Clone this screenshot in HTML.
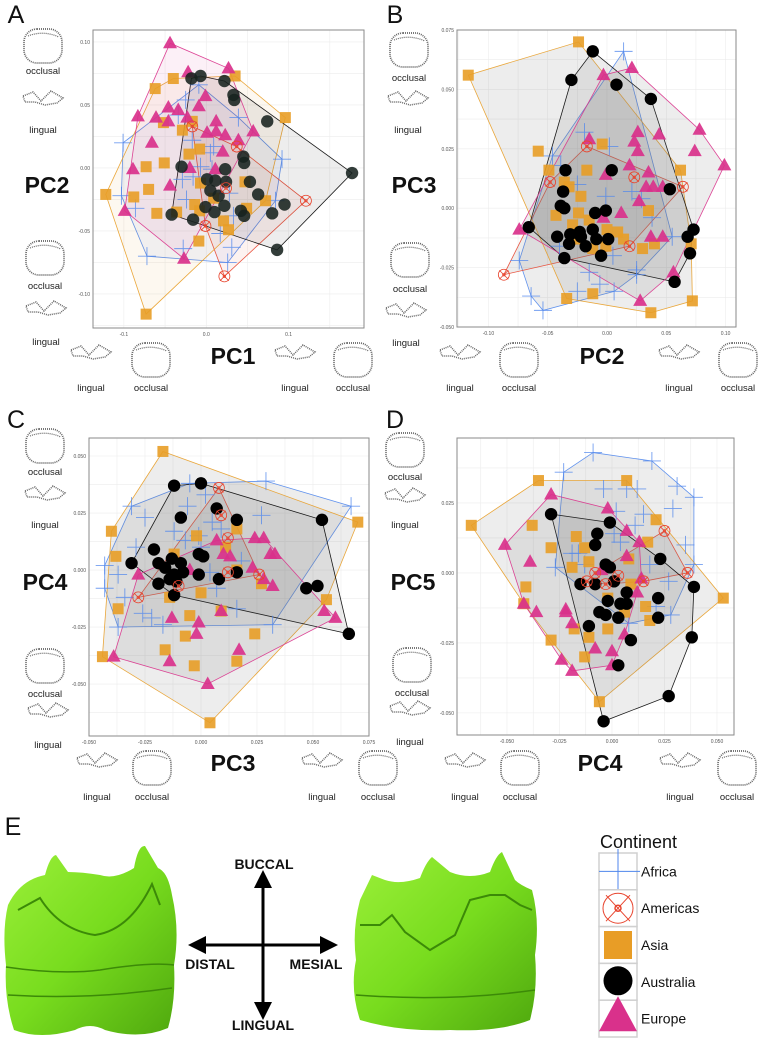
<!DOCTYPE html>
<html><head><meta charset="utf-8">
<style>
html,body{margin:0;padding:0;background:#fff;}
body{width:763px;height:1041px;overflow:hidden;position:relative;font-family:"Liberation Sans",Arial,sans-serif;}
svg{position:absolute;left:0;top:0;}
</style></head>
<body>
<svg id="fig" width="763" height="1041" viewBox="0 0 763 1041" xmlns="http://www.w3.org/2000/svg">
<defs>
<linearGradient id="toothG" x1="0" y1="0" x2="1" y2="1">
<stop offset="0" stop-color="#9cf03a"/><stop offset="0.5" stop-color="#78dc1e"/><stop offset="1" stop-color="#4fa80e"/>
</linearGradient>
<marker id="ah" markerWidth="6" markerHeight="6" refX="3" refY="3" orient="auto"><path d="M0,0 L6,3 L0,6 z" fill="#000"/></marker>
</defs>
</svg>
<script>
// ===== Panel A data (PC1 vs PC2) =====
const aAfricaX=[-0.009,-0.025,-0.034,0.039,-0.101,-0.017,0.005,-0.007,-0.016,-0.029,0.007,0.092,0.084,-0.024,0.028,0.033,-0.086,-0.103,-0.072,-0.028,0.031,0.026,0.017,0.009];
const aAfricaY=[0.066,0.054,0.042,0.040,0.020,0.022,0.012,0.001,-0.007,-0.009,-0.001,0.007,-0.026,-0.025,-0.020,-0.038,-0.032,-0.022,-0.070,-0.064,-0.063,-0.075,-0.052,0.017];
const aAmericasX=[-0.017,0.024,-0.001,0.121,0.022,0.037];
const aAmericasY=[0.033,-0.016,-0.046,-0.026,-0.086,0.017];
const aAsiaX=[-0.040,-0.062,0.035,0.096,-0.052,-0.017,-0.029,-0.008,-0.021,-0.073,-0.051,-0.122,-0.088,-0.070,-0.060,-0.036,-0.014,-0.007,0.009,-0.008,0.047,0.049,0.072,0.021,0.027,-0.009,-0.073];
const aAsiaY=[0.071,0.063,0.073,0.040,0.036,0.037,0.030,0.015,0.011,0.001,0.004,-0.021,-0.023,-0.017,-0.036,-0.035,-0.029,-0.012,-0.024,-0.034,-0.011,-0.032,-0.026,-0.042,-0.049,-0.058,-0.116];
const aAustraliaX=[-0.018,-0.007,0.022,0.033,0.034,0.074,0.177,0.045,0.046,-0.030,0.023,0.001,0.011,0.024,0.005,0.015,0.053,0.063,0.095,0.080,0.086,-0.001,0.010,0.022,0.042,0.046,-0.016,-0.042];
const aAustraliaY=[0.071,0.073,0.069,0.058,0.054,0.037,-0.004,0.009,0.004,0.001,-0.001,-0.009,-0.010,-0.011,-0.018,-0.022,-0.011,-0.021,-0.029,-0.036,-0.065,-0.031,-0.035,-0.030,-0.034,-0.038,-0.041,-0.037];
const aEuropeX=[-0.044,0.027,-0.022,-0.001,-0.009,-0.083,-0.061,-0.046,-0.034,-0.046,-0.023,0.012,0.001,0.012,0.023,0.039,0.057,-0.066,0.020,-0.089,-0.020,0.011,-0.044,-0.099,-0.027];
const aEuropeY=[0.099,0.079,0.076,0.057,0.049,0.041,0.040,0.048,0.046,0.037,0.040,0.037,0.028,0.029,0.026,0.022,0.029,0.020,0.013,-0.001,0.000,-0.001,-0.014,-0.034,-0.072];
const aXTicks=[-0.1,0.0,0.1], aXTickLabels=["-0.1","0.0","0.1"];
const aYTicks=[-0.10,-0.05,0.00,0.05,0.10], aYTickLabels=["-0.10","-0.05","0.00","0.05","0.10"];

// ===== Panel B data (PC2 vs PC3) =====
const bAfricaX=[0.014,-0.019,-0.046,-0.064,-0.054,-0.074,-0.025,-0.001,0.021,0.029,0.038,0.005,0.025,0.025,-0.015,-0.006,0.006,-0.025,0.055,-0.039,0.002,-0.040];
const bAfricaY=[0.066,0.032,0.022,-0.037,-0.043,-0.022,0.010,0.005,0.007,0.004,-0.004,-0.020,-0.026,-0.028,-0.027,-0.032,-0.035,-0.035,-0.012,0.018,0.026,-0.016];
const bAmericasX=[-0.017,0.023,0.064,-0.048,0.019,-0.087];
const bAmericasY=[0.026,0.013,0.009,0.011,-0.016,-0.028];
const bAsiaX=[-0.117,-0.024,-0.058,-0.049,-0.017,-0.004,0.062,-0.036,-0.032,-0.022,-0.024,-0.043,-0.029,-0.015,0.000,0.009,0.014,0.035,0.030,0.040,0.071,0.072,0.037,-0.034,-0.012,-0.012,-0.001,-0.027];
const bAsiaY=[0.056,0.070,0.024,0.016,0.016,0.027,0.016,0.011,0.009,0.005,-0.002,-0.003,-0.007,-0.005,-0.009,-0.010,-0.013,-0.001,-0.017,-0.015,-0.015,-0.039,-0.044,-0.038,-0.036,-0.017,-0.016,-0.013];
const bAustraliaX=[-0.012,-0.030,0.008,0.037,-0.035,0.004,0.053,-0.037,-0.039,-0.036,-0.010,-0.001,-0.066,-0.042,-0.031,-0.023,-0.022,-0.032,-0.018,-0.012,-0.009,0.001,-0.005,-0.036,0.073,0.068,0.070,0.057];
const bAustraliaY=[0.066,0.054,0.052,0.046,0.016,0.016,0.008,0.007,0.001,0.000,-0.002,-0.001,-0.008,-0.012,-0.011,-0.010,-0.012,-0.015,-0.016,-0.009,-0.013,-0.013,-0.020,-0.021,-0.009,-0.012,-0.019,-0.031];
const bEuropeX=[-0.003,0.021,0.078,0.026,0.044,0.023,0.026,0.074,0.099,-0.015,0.019,-0.001,0.035,0.039,0.033,0.047,0.027,0.012,-0.003,0.037,0.047,-0.074,0.056,0.028];
const bEuropeY=[0.056,0.059,0.033,0.032,0.031,0.028,0.024,0.024,0.018,0.029,0.018,0.014,0.015,0.009,0.009,0.009,0.003,-0.002,-0.004,-0.012,-0.012,-0.009,-0.027,-0.039];
const bXTicks=[-0.10,-0.05,0.00,0.05,0.10], bXTickLabels=["-0.10","-0.05","0.00","0.05","0.10"];
const bYTicks=[-0.050,-0.025,0.000,0.025,0.050,0.075], bYTickLabels=["-0.050","-0.025","0.000","0.025","0.050","0.075"];

// ===== Panel C data (PC3 vs PC4) =====
const cAfricaX=[-0.005,0.002,0.029,0.067,-0.031,-0.025,-0.006,-0.012,0.005,0.009,0.027,-0.007,-0.001,-0.043,-0.037,-0.034,-0.043,-0.026,-0.022,-0.017,0.007,0.004,0.018,0.016,0.032,-0.037,-0.029,0.000];
const cAfricaY=[0.038,0.033,0.039,0.028,0.028,0.023,0.028,0.017,0.021,0.018,0.024,0.013,0.015,0.002,-0.002,-0.012,-0.008,-0.019,-0.021,-0.024,-0.008,-0.001,0.004,-0.017,-0.024,-0.025,0.010,0.010];
const cAmericasX=[0.008,0.009,0.012,-0.028,0.026,0.012,-0.010];
const cAmericasY=[0.036,0.024,0.014,-0.012,-0.002,-0.001,-0.007];
const cAsiaX=[-0.017,0.070,-0.040,-0.002,0.016,-0.038,0.011,-0.012,-0.037,-0.014,0.000,0.027,0.016,0.056,-0.005,0.009,-0.007,0.024,-0.016,-0.003,0.016,-0.044,0.004];
const cAsiaY=[0.052,0.021,0.017,0.015,0.018,0.006,0.010,0.007,-0.017,-0.012,-0.010,-0.006,0.000,-0.013,-0.020,-0.018,-0.029,-0.028,-0.035,-0.042,-0.040,-0.038,-0.067];
const cAustraliaX=[-0.012,0.000,0.007,-0.009,0.016,0.054,-0.021,-0.019,-0.031,-0.016,-0.013,-0.009,-0.001,0.001,-0.012,-0.008,-0.001,0.008,0.016,-0.019,-0.014,-0.011,-0.012,0.047,0.052,0.066];
const cAustraliaY=[0.037,0.038,0.027,0.023,0.022,0.022,0.009,0.003,0.003,0.001,0.005,0.003,0.007,0.006,-0.002,-0.001,-0.002,-0.004,-0.001,-0.006,-0.004,-0.005,-0.011,-0.008,-0.007,-0.028];
const cEuropeX=[-0.028,0.007,0.010,0.013,0.024,0.028,0.031,0.033,0.023,0.028,0.032,-0.005,-0.013,-0.001,-0.002,0.009,0.017,-0.014,-0.039,0.003,0.055,0.060];
const cEuropeY=[-0.002,0.013,0.007,0.006,0.014,0.014,0.007,0.007,0.001,-0.004,-0.007,0.000,-0.021,-0.023,-0.028,-0.018,-0.035,-0.040,-0.038,-0.050,-0.018,-0.021];
const cXTicks=[-0.050,-0.025,0.000,0.025,0.050,0.075], cXTickLabels=["-0.050","-0.025","0.000","0.025","0.050","0.075"];
const cYTicks=[-0.050,-0.025,0.000,0.025,0.050], cYTickLabels=["-0.050","-0.025","0.000","0.025","0.050"];

// ===== Panel D data (PC4 vs PC5) =====
const dAfricaX=[-0.009,0.019,-0.023,0.031,0.039,-0.004,0.012,0.007,0.029,0.002,0.015,0.011,0.001,-0.019,-0.013,-0.027,0.018,0.027,0.039,0.035,0.008,0.028,0.021,-0.016,0.004];
const dAfricaY=[0.043,0.040,0.036,0.031,0.027,0.030,0.030,0.030,0.023,0.022,0.021,0.017,0.014,0.007,0.003,0.002,0.003,-0.003,0.003,0.010,-0.018,-0.015,-0.012,0.007,0.011];
const dAmericasX=[0.025,0.036,-0.012,-0.003,0.003,0.015,-0.008];
const dAmericasY=[0.015,0.000,-0.003,-0.004,-0.001,-0.003,0.000];
const dAsiaX=[-0.067,-0.035,0.007,0.021,-0.038,-0.029,-0.017,-0.013,-0.019,-0.011,0.008,0.017,-0.041,-0.042,-0.029,-0.018,-0.011,-0.002,0.006,0.016,0.018,0.053,-0.006,-0.013,0.009,-0.002];
const dAsiaY=[0.017,0.033,0.033,0.019,0.017,0.009,0.013,0.009,0.002,0.004,0.005,0.011,-0.005,-0.011,-0.024,-0.020,-0.023,-0.020,-0.014,-0.012,-0.017,-0.009,-0.046,-0.030,-0.004,-0.009];
const dAustraliaX=[-0.029,-0.001,-0.007,-0.008,0.023,-0.003,-0.001,0.001,-0.008,0.039,0.022,0.007,-0.002,0.004,0.007,-0.006,-0.003,0.003,0.022,-0.011,0.009,0.038,0.003,0.027,-0.004,-0.015];
const dAustraliaY=[0.021,0.018,0.014,0.010,0.005,0.003,0.002,-0.003,-0.004,-0.005,-0.009,-0.007,-0.010,-0.011,-0.011,-0.014,-0.015,-0.016,-0.016,-0.019,-0.024,-0.023,-0.033,-0.044,-0.053,-0.004];
const dEuropeX=[-0.029,-0.002,0.007,0.013,-0.051,-0.039,0.007,0.014,-0.005,0.012,-0.042,-0.036,-0.022,-0.022,-0.019,-0.008,0.000,0.000,0.006,-0.024,-0.019];
const dEuropeY=[0.028,0.023,0.015,0.011,0.010,0.004,0.006,-0.002,0.001,-0.007,-0.011,-0.014,-0.013,-0.014,-0.018,-0.027,-0.028,-0.033,-0.022,-0.031,-0.035];
const dXTicks=[-0.050,-0.025,0.000,0.025,0.050], dXTickLabels=["-0.050","-0.025","0.000","0.025","0.050"];
const dYTicks=[-0.050,-0.025,0.000,0.025], dYTickLabels=["-0.050","-0.025","0.000","0.025"];

const NS="http://www.w3.org/2000/svg";
const fig=document.getElementById('fig');
const COL={Africa:"#4f86ec",Americas:"#e8452f",Asia:"#e89d26",Australia:"#000000",Europe:"#d9318b"};
function mk(tag,attrs,parent){const e=document.createElementNS(NS,tag);for(const k in attrs)e.setAttribute(k,attrs[k]);(parent||fig).appendChild(e);return e;}

function hull(xs,ys){
  const p=xs.map((x,i)=>[x,ys[i]]).sort((a,b)=>a[0]-b[0]||a[1]-b[1]);
  const cr=(o,a,b)=>(a[0]-o[0])*(b[1]-o[1])-(a[1]-o[1])*(b[0]-o[0]);
  const lo=[],up=[];
  for(const q of p){while(lo.length>=2&&cr(lo[lo.length-2],lo[lo.length-1],q)<=0)lo.pop();lo.push(q);}
  for(let i=p.length-1;i>=0;i--){const q=p[i];while(up.length>=2&&cr(up[up.length-2],up[up.length-1],q)<=0)up.pop();up.push(q);}
  up.pop();lo.pop();return lo.concat(up);
}

function marker(g,grp,px,py,dark){
  let e;
  if(grp==="Africa"){
    e=mk('path',{d:`M${px-9},${py}H${px+9}M${px},${py-9}V${py+9}`,stroke:COL.Africa,'stroke-width':0.9,'stroke-opacity':0.8,fill:'none'},g);
  }else if(grp==="Americas"){
    e=mk('g',{},g);
    mk('circle',{cx:px,cy:py,r:5.5,fill:'none',stroke:COL.Americas,'stroke-width':0.8},e);
    mk('path',{d:`M${px-4.5},${py-4.5}L${px+4.5},${py+4.5}M${px+4.5},${py-4.5}L${px-4.5},${py+4.5}`,stroke:COL.Americas,'stroke-width':0.8},e);
    mk('circle',{cx:px,cy:py,r:1.3,fill:'none',stroke:COL.Americas,'stroke-width':0.7},e);
  }else if(grp==="Asia"){
    e=mk('rect',{x:px-5.5,y:py-5.5,width:11,height:11,fill:COL.Asia,'fill-opacity':0.9},g);
  }else if(grp==="Australia"){
    e=mk('circle',{cx:px,cy:py,r:6.2,fill:dark?"#17221f":"#000",'fill-opacity':dark?0.88:1},g);
  }else{
    e=mk('path',{d:`M${px},${py-7.5}L${px+7},${py+5}L${px-7},${py+5}Z`,fill:COL.Europe,'fill-opacity':0.92},g);
  }
  
  
}

function panel(cfg){
  const g=mk('g',{});
  
  
  const sx=v=>cfg.x0+(v-cfg.xmin)/(cfg.xmax-cfg.xmin)*(cfg.x1-cfg.x0);
  const sy=v=>cfg.y1-(v-cfg.ymin)/(cfg.ymax-cfg.ymin)*(cfg.y1-cfg.y0);
  mk('rect',{x:cfg.x0,y:cfg.y0,width:cfg.x1-cfg.x0,height:cfg.y1-cfg.y0,fill:'#fff'},g);
  const grid=mk('g',{},g);
  
  
  const stepX=cfg.xt[1]-cfg.xt[0], stepY=cfg.yt[1]-cfg.yt[0];
  for(let v=cfg.xt[0]-stepX*2;v<=cfg.xmax+stepX;v+=stepX/2){const X=sx(v);if(X>cfg.x0&&X<cfg.x1)mk('line',{x1:X,x2:X,y1:cfg.y0,y2:cfg.y1,stroke:'#ececec','stroke-width':0.6},grid);}
  for(let v=cfg.yt[0]-stepY*2;v<=cfg.ymax+stepY;v+=stepY/2){const Y=sy(v);if(Y>cfg.y0&&Y<cfg.y1)mk('line',{x1:cfg.x0,x2:cfg.x1,y1:Y,y2:Y,stroke:'#ececec','stroke-width':0.6},grid);}
  const order=["Africa","Americas","Asia","Australia","Europe"];
  order.forEach(k=>{
    const h=hull(cfg.data[k][0],cfg.data[k][1]);
    const pts=h.map(p=>sx(p[0]).toFixed(1)+','+sy(p[1]).toFixed(1)).join(' ');
    const fillC=cfg.colorFill?COL[k]:'#777';
    const pg=mk('polygon',{points:pts,fill:fillC,'fill-opacity':cfg.colorFill?0.07:0.13,stroke:COL[k],'stroke-width':0.8,'stroke-opacity':0.9},g);
    
    
  });
  ["Africa","Asia","Europe","Australia","Americas"].forEach(k=>{
    const d=cfg.data[k];
    d[0].forEach((x,i)=>marker(g,k,sx(x),sy(d[1][i]),cfg.colorFill));
  });
  mk('rect',{x:cfg.x0,y:cfg.y0,width:cfg.x1-cfg.x0,height:cfg.y1-cfg.y0,fill:'none',stroke:'#8a8a8a','stroke-width':1},g);
  cfg.xt.forEach((v,i)=>{const t=mk('text',{x:sx(v),y:cfg.y1+8,'font-size':5,'text-anchor':'middle',fill:'#555'},g);t.textContent=cfg.xl[i];});
  cfg.yt.forEach((v,i)=>{const t=mk('text',{x:cfg.x0-3,y:sy(v)+2,'font-size':5,'text-anchor':'end',fill:'#555'},g);t.textContent=cfg.yl[i];});
}

panel({name:'panel-a-plot',x0:93,x1:364,y0:30,y1:328,xmin:-0.1375,xmax:0.1915,ymin:-0.127,ymax:0.1095,colorFill:true,
 xt:aXTicks,xl:aXTickLabels,yt:aYTicks,yl:aYTickLabels,
 data:{Africa:[aAfricaX,aAfricaY],Americas:[aAmericasX,aAmericasY],Asia:[aAsiaX,aAsiaY],Australia:[aAustraliaX,aAustraliaY],Europe:[aEuropeX,aEuropeY]}});
panel({name:'panel-b-plot',x0:457,x1:736,y0:30,y1:327,xmin:-0.1265,xmax:0.1088,ymin:-0.050,ymax:0.075,colorFill:false,
 xt:bXTicks,xl:bXTickLabels,yt:bYTicks,yl:bYTickLabels,
 data:{Africa:[bAfricaX,bAfricaY],Americas:[bAmericasX,bAmericasY],Asia:[bAsiaX,bAsiaY],Australia:[bAustraliaX,bAustraliaY],Europe:[bEuropeX,bEuropeY]}});
panel({name:'panel-c-plot',x0:89,x1:369,y0:438,y1:736,xmin:-0.050,xmax:0.075,ymin:-0.0728,ymax:0.0579,colorFill:false,
 xt:cXTicks,xl:cXTickLabels,yt:cYTicks,yl:cYTickLabels,
 data:{Africa:[cAfricaX,cAfricaY],Americas:[cAmericasX,cAmericasY],Asia:[cAsiaX,cAsiaY],Australia:[cAustraliaX,cAustraliaY],Europe:[cEuropeX,cEuropeY]}});
panel({name:'panel-d-plot',x0:457,x1:734,y0:438,y1:735,xmin:-0.0738,xmax:0.0581,ymin:-0.0579,ymax:0.0482,colorFill:false,
 xt:dXTicks,xl:dXTickLabels,yt:dYTicks,yl:dYTickLabels,
 data:{Africa:[dAfricaX,dAfricaY],Americas:[dAmericasX,dAmericasY],Asia:[dAsiaX,dAsiaY],Australia:[dAustraliaX,dAustraliaY],Europe:[dEuropeX,dEuropeY]}});

function txt(s,x,y,size,opts,name){
  const t=mk('text',Object.assign({x:x,y:y,'font-size':size,'text-anchor':'middle',fill:'#111'},opts||{}));
  t.textContent=s;
  
  
  return t;
}
function occl(cx,cy){
  const g=mk('g',{});
  
  
  mk('rect',{x:cx-19,y:cy-17,width:38,height:34,rx:13,fill:'none',stroke:'#666','stroke-width':1.7,'stroke-dasharray':'1 1'},g);
  mk('path',{d:`M${cx-15},${cy-10}Q${cx},${cy-16} ${cx+16},${cy-9}`,fill:'none',stroke:'#666','stroke-width':1.2,'stroke-dasharray':'1 1'},g);
}
function ling(cx,cy){
  const g=mk('g',{});
  
  
  mk('path',{d:`M${cx-20},${cy-12}L${cx-10},${cy-16}L${cx-2},${cy-7}L${cx+8},${cy-17}L${cx+20},${cy-10}L${cx+14},${cy-5}L${cx+2},${cy-3}L${cx-8},${cy-6}L${cx-18},${cy-6}Z`,fill:'none',stroke:'#666','stroke-width':1.5,'stroke-dasharray':'1 1'},g);
  mk('path',{d:`M${cx-22},${cy+10}Q${cx-22},${cy}${cx-12},${cy+1}Q${cx},${cy+4}${cx+12},${cy}Q${cx+23},${cy-1}${cx+21},${cy+10}Q${cx+18},${cy+16}${cx},${cy+15}Q${cx-22},${cy+17}${cx-22},${cy+10}Z`,fill:'none',stroke:'#666','stroke-width':1.5,'stroke-dasharray':'1 1'},g);
}
function shapeSet(list){list.forEach(s=>{if(s[0]==='o'){occl(s[1],s[2]);txt('occlusal',s[1],s[3],9.5,{fill:'#222'},'occlusal-label');}else{ling(s[1],s[2]);txt('lingual',s[1],s[3],9.5,{fill:'#222'},'lingual-label');}});}
shapeSet([['o',43,46,74],['l',43,108,133],['o',45,258,289],['l',46,318,345],['l',91,362,391],['o',151,360,391],['l',295,362,391],['o',353,360,391]]);
shapeSet([['o',409,50,81],['l',408,108,133],['o',410,260,292],['l',406,320,346],['l',460,362,391],['o',519,360,391],['l',679,362,391],['o',738,360,391]]);
shapeSet([['o',45,446,475],['l',45,503,528],['o',45,666,697],['l',48,720,748],['l',97,770,800],['o',152,768,800],['l',322,770,800],['o',378,768,800]]);
shapeSet([['o',405,450,480],['l',405,505,528],['o',412,665,696],['l',410,718,745],['l',465,770,800],['o',520,768,800],['l',680,770,800],['o',737,768,800]]);

[['A',16,23],['B',395,23],['C',16,428],['D',395,428],['E',13,835]].forEach(a=>txt(a[0],a[1],a[2],25,{},'panel-letter-'+a[0].toLowerCase()));
[['PC2',47,193],['PC1',233,364],['PC3',414,193],['PC2',602,364],['PC4',45,590],['PC3',233,771],['PC5',413,590],['PC4',600,771]].forEach(a=>txt(a[0],a[1],a[2],23,{'font-weight':'bold'},'axis-title-'+a[0].toLowerCase()));

// teeth
const t1=mk('path',{d:'M8,905 Q2,930 6,965 Q4,1000 14,1030 Q40,1040 75,1030 Q90,1022 105,1030 Q140,1040 168,1028 Q176,1000 174,965 Q180,930 172,895 Q168,872 158,868 L145,846 Q138,845 134,868 Q115,880 100,875 Q82,872 68,872 L56,855 Q50,856 45,875 Q20,880 8,905 Z',fill:'url(#toothG)'});


mk('path',{d:'M18,910 L40,898 Q60,930 95,935 Q130,930 152,884 L160,905',fill:'none',stroke:'#3c8a08','stroke-width':2});
mk('path',{d:'M6,967 Q60,975 100,970 Q150,962 174,965 M8,995 Q90,1000 172,988',fill:'none',stroke:'#3c8a08','stroke-width':1.5});
const t2=mk('path',{d:'M360,900 Q352,930 356,960 Q350,990 360,1020 Q400,1032 450,1030 Q500,1032 530,1020 Q538,990 535,955 Q540,920 532,890 Q520,885 515,880 L502,852 Q496,855 490,872 Q470,880 450,872 L432,857 Q426,862 420,878 Q400,885 385,880 L372,875 L360,900 Z',fill:'url(#toothG)'});


mk('path',{d:'M360,925 L380,925 L392,915 L405,932 L430,950 L455,935 L470,900 L490,895 L505,895 L520,905 L532,910',fill:'none',stroke:'#3c8a08','stroke-width':2});
mk('path',{d:'M356,995 Q450,1002 535,990',fill:'none',stroke:'#3c8a08','stroke-width':1.5});

const ar=mk('g',{});


mk('line',{x1:263,y1:1012,x2:263,y2:879,stroke:'#000','stroke-width':3,'marker-end':'url(#ah)'},ar);
mk('line',{x1:263,y1:878,x2:263,y2:1011,stroke:'#000','stroke-width':3,'marker-end':'url(#ah)'},ar);
mk('line',{x1:330,y1:945,x2:197,y2:945,stroke:'#000','stroke-width':3,'marker-end':'url(#ah)'},ar);
mk('line',{x1:196,y1:945,x2:329,y2:945,stroke:'#000','stroke-width':3,'marker-end':'url(#ah)'},ar);
txt('BUCCAL',264,869,14,{'font-weight':'bold'},'buccal-label');
txt('DISTAL',210,969,14,{'font-weight':'bold'},'distal-label');
txt('MESIAL',316,969,14,{'font-weight':'bold'},'mesial-label');
txt('LINGUAL',263,1030,14,{'font-weight':'bold'},'lingual-direction-label');

const lg=mk('g',{});


const lt=mk('text',{x:600,y:848,'font-size':18,fill:'#111'},lg);lt.textContent='Continent';


const legNames=["Africa","Americas","Asia","Australia","Europe"];
legNames.forEach((n,i)=>{
  const y=853+i*36.8, cx=618, cy=y+18.4;
  const e=mk('g',{},lg);
  
  
  mk('rect',{x:599,y:y,width:38,height:36.8,fill:'#fff',stroke:'#d0d0d0','stroke-width':1.5},e);
  if(n==="Africa"){mk('path',{d:`M599,${cy}H640M${cx},${y-4}V${y+36}`,stroke:COL.Africa,'stroke-width':1},e);}
  else if(n==="Americas"){mk('circle',{cx:cx,cy:cy,r:15,fill:'none',stroke:COL.Americas,'stroke-width':1},e);mk('path',{d:`M${cx-12},${cy-13}L${cx+12},${cy+13}M${cx+12},${cy-13}L${cx-12},${cy+13}`,stroke:COL.Americas,'stroke-width':1},e);mk('circle',{cx:cx,cy:cy,r:3,fill:'none',stroke:COL.Americas,'stroke-width':1.5},e);}
  else if(n==="Asia"){mk('rect',{x:cx-14,y:cy-14,width:28,height:28,fill:COL.Asia},e);}
  else if(n==="Australia"){mk('circle',{cx:cx,cy:cy-1,r:14.5,fill:'#000'},e);}
  else {mk('path',{d:`M${cx},${y-4}L${cx+19},${y+31}L${cx-19},${y+31}Z`,fill:COL.Europe},e);}
  const t=mk('text',{x:641,y:cy+5,'font-size':14,fill:'#111'},e);t.textContent=n;
});
</script>
</body></html>
